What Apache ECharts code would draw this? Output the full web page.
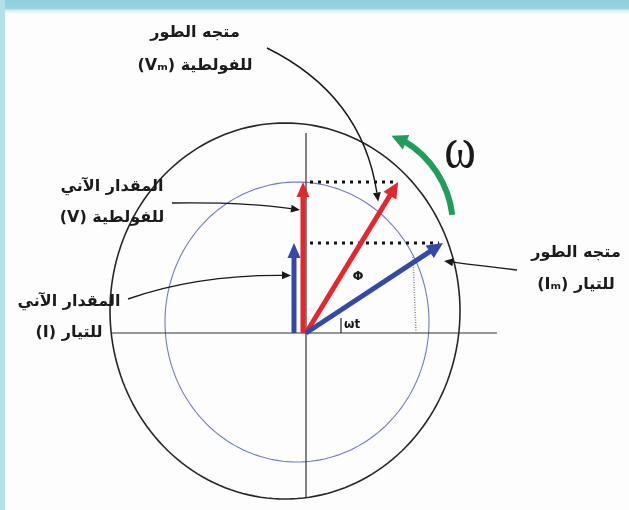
<!DOCTYPE html>
<html><head><meta charset="utf-8">
<script src="https://cdn.jsdelivr.net/npm/echarts@6/dist/echarts.min.js"></script>
<style>html,body{margin:0;padding:0;background:#fdfdfd}#c{width:629px;height:510px}</style>
</head><body><div id="c"></div><script>
// ---------- data (in plot units) ----------
const phasorNames = ['Vm', 'Im'];
const phasorMagnitudes = [177, 164];
const phasorAnglesDeg = [58.6, 33.3];
const instantaneousValues = [151, 90];
const phasorColors = ['#e4262d', '#3349a9'];
const circleRadiiX = [175, 132];
const circleRadiiY = [188, 140];
const labelLine1 = ['متجه الطور', 'المقدار الآني', 'المقدار الآني', 'متجه الطور'];
const labelLine2 = ['(Vₘ) للفولطية', '(V) للفولطية', '(I) للتيار', '(Iₘ) للتيار'];
const omegaText = 'ω';
const phiText = 'Φ';
const angleText = 'ωt';

// ---------- layout (positions in plot units, origin = phasor origin) ----------
const L = {
  circleCenters: [[-21, 22], [-9, 11]],
  circleColors: ['#262626', '#6f7cc4'],
  circleWidths: [1.6, 1.1],
  hAxis: [-194, 191], vAxis: [-164, 200],
  projOffsetX: [-3, -12],
  labels: [[-111, 300, 267], [-194, 146, 115], [-237, 31, 0], [270, 80, 48]],
  omegaArc: {c: [47, 106], r: 100, a0: 7, a1: 66},
  omegaPos: [154, 182], phiPos: [52, 56], anglePos: [38, 8],
  dotArc: [[107, 76], [110, 0]]
};

const chart = echarts.init(document.getElementById('c'));

function arrowEls(p0, p1, color, width, headLen, headW) {
  const dx = p1[0] - p0[0], dy = p1[1] - p0[1];
  const len = Math.hypot(dx, dy), ux = dx / len, uy = dy / len;
  const b = [p1[0] - ux * headLen, p1[1] - uy * headLen];
  const nx = -uy, ny = ux;
  return [
    {type: 'line', shape: {x1: p0[0], y1: p0[1], x2: b[0] + ux, y2: b[1] + uy}, style: {stroke: color, lineWidth: width}},
    {type: 'polygon', shape: {points: [p1, [b[0] + nx * headW, b[1] + ny * headW], [b[0] - nx * headW, b[1] - ny * headW]]}, style: {fill: color}}
  ];
}
function leader(api, s, c, e) {
  const ps = api.coord(s), pc = api.coord(c), pe = api.coord(e);
  const dx = pe[0] - pc[0], dy = pe[1] - pc[1];
  const len = Math.hypot(dx, dy), ux = dx / len, uy = dy / len;
  const hl = 9, hw = 4;
  const b = [pe[0] - ux * hl, pe[1] - uy * hl];
  return [
    {type: 'bezierCurve', shape: {x1: ps[0], y1: ps[1], cpx1: pc[0], cpy1: pc[1], x2: b[0], y2: b[1]}, style: {stroke: '#1a1a1a', lineWidth: 1.4, fill: null}},
    {type: 'polygon', shape: {points: [pe, [b[0] - uy * hw, b[1] + ux * hw], [b[0] + uy * hw, b[1] - ux * hw]]}, style: {fill: '#1a1a1a'}}
  ];
}
function tip(i) {
  const a = phasorAnglesDeg[i] * Math.PI / 180;
  return [phasorMagnitudes[i] * Math.cos(a), phasorMagnitudes[i] * Math.sin(a)];
}
const arFont = 'bold 16px "DejaVu Sans"';

const option = {
  animation: false,
  backgroundColor: '#fdfdfd',
  grid: {left: 0, right: 0, top: 0, bottom: 0},
  xAxis: {type: 'value', min: -306, max: 323, show: false},
  yAxis: {type: 'value', min: -177, max: 333, show: false},
  graphic: [
    {type: 'rect', shape: {x: 0, y: 0, width: 629, height: 14}, style: {fill: new echarts.graphic.LinearGradient(0, 0, 0, 1, [{offset: 0, color: '#8fd0dc'}, {offset: 0.6, color: '#96d4de'}, {offset: 0.75, color: '#d6eff2'}, {offset: 1, color: '#fdfdfd'}])}},
    {type: 'rect', shape: {x: 0, y: 0, width: 5, height: 510}, style: {fill: '#b3e1e7'}}
  ],
  series: [
    { // circles
      type: 'custom', coordinateSystem: 'cartesian2d', silent: true,
      data: circleRadiiX.map((r, i) => [i]),
      renderItem(params, api) {
        const i = params.dataIndex, c = L.circleCenters[i];
        const pts = [];
        for (let k = 0; k <= 180; k++) {
          const t = k / 180 * Math.PI * 2;
          pts.push(api.coord([c[0] + circleRadiiX[i] * Math.cos(t), c[1] + circleRadiiY[i] * Math.sin(t)]));
        }
        return {type: 'polyline', shape: {points: pts}, style: {stroke: L.circleColors[i], lineWidth: L.circleWidths[i], fill: null}};
      }
    },
    { // axes + dotted arc
      type: 'custom', coordinateSystem: 'cartesian2d', silent: true, data: [[0]],
      renderItem(params, api) {
        const h0 = api.coord([L.hAxis[0], 0]), h1 = api.coord([L.hAxis[1], 0]);
        const v0 = api.coord([0, L.vAxis[0]]), v1 = api.coord([0, L.vAxis[1]]);
        const d0 = api.coord(L.dotArc[0]), d1 = api.coord(L.dotArc[1]);
        return {type: 'group', children: [
          {type: 'line', shape: {x1: h0[0], y1: h0[1], x2: h1[0], y2: h1[1]}, style: {stroke: '#333', lineWidth: 1.2}},
          {type: 'line', shape: {x1: v0[0], y1: v0[1], x2: v1[0], y2: v1[1]}, style: {stroke: '#333', lineWidth: 1.2}},
          {type: 'line', shape: {x1: d0[0], y1: d0[1], x2: d1[0], y2: d1[1]}, style: {stroke: '#888', lineWidth: 1.5, lineDash: [1, 1.5]}}
        ]};
      }
    },
    { // projections (dotted) + instantaneous arrows
      type: 'custom', coordinateSystem: 'cartesian2d', silent: true,
      data: instantaneousValues.map((v, i) => [i]),
      renderItem(params, api) {
        const i = params.dataIndex, t = tip(i), v = instantaneousValues[i];
        const a = api.coord([0, t[1]]), b = api.coord([t[0], t[1]]);
        const p0 = api.coord([L.projOffsetX[i], 0]), p1 = api.coord([L.projOffsetX[i], v]);
        return {type: 'group', children: [
          {type: 'line', shape: {x1: a[0] + 4, y1: a[1], x2: b[0] - 4, y2: b[1]}, style: {stroke: '#111', lineWidth: 3, lineDash: [3, 5]}},
          ...arrowEls(p0, p1, phasorColors[i], 5, 15, 6.5)
        ]};
      }
    },
    { // rotating phasors
      type: 'custom', coordinateSystem: 'cartesian2d', silent: true,
      data: phasorMagnitudes.map((m, i) => [i]),
      renderItem(params, api) {
        const i = params.dataIndex;
        return {type: 'group', children: arrowEls(api.coord([0, 0]), api.coord(tip(i)), phasorColors[i], 5, 16, 7.5)};
      }
    },
    { // annotations
      type: 'custom', coordinateSystem: 'cartesian2d', silent: true, data: [[0]],
      renderItem(params, api) {
        const ch = [];
        labelLine1.forEach((t, i) => {
          const l = L.labels[i];
          const p1 = api.coord([l[0], l[1]]), p2 = api.coord([l[0], l[2]]);
          ch.push({type: 'text', style: {text: t, x: p1[0], y: p1[1], font: arFont, fill: '#1b1b1b', align: 'center', verticalAlign: 'middle'}});
          ch.push({type: 'text', style: {text: labelLine2[i], x: p2[0], y: p2[1], font: arFont, fill: '#1b1b1b', align: 'center', verticalAlign: 'middle'}});
        });
        const tv = tip(0), ti = tip(1);
        ch.push(...leader(api, [-39, 285], [56, 238], [tv[0] * 0.87 - 8, tv[1] * 0.87]));
        ch.push(...leader(api, [-134, 130], [-60, 131], [L.projOffsetX[0] - 3, instantaneousValues[0] * 0.815]));
        ch.push(...leader(api, [-178, 34], [-110, 58], [L.projOffsetX[1] - 3, instantaneousValues[1] * 0.64]));
        ch.push(...leader(api, [211, 63], [175, 67], [ti[0] + 1, ti[1] - 18]));
        // omega rotation arrow
        const oa = L.omegaArc, c = api.coord(oa.c), r = api.size([oa.r, 0])[0];
        const a0 = -oa.a1 * Math.PI / 180, a1 = -oa.a0 * Math.PI / 180;
        ch.push({type: 'arc', shape: {cx: c[0], cy: c[1], r: r, startAngle: a0 + 0.12, endAngle: a1, clockwise: true}, style: {stroke: '#1f9e5b', lineWidth: 6, fill: null}});
        const e = [c[0] + r * Math.cos(a0 + 0.14), c[1] + r * Math.sin(a0 + 0.14)];
        const tg = [Math.sin(a0), -Math.cos(a0)];
        const tp = [e[0] + tg[0] * 16, e[1] + tg[1] * 16];
        const nn = [Math.cos(a0), Math.sin(a0)];
        ch.push({type: 'polygon', shape: {points: [tp, [e[0] + nn[0] * 8, e[1] + nn[1] * 8], [e[0] - nn[0] * 8, e[1] - nn[1] * 8]]}, style: {fill: '#1f9e5b'}});
        const po = api.coord(L.omegaPos), pp = api.coord(L.phiPos), pa = api.coord(L.anglePos);
        ch.push({type: 'text', x: po[0], y: po[1], scaleY: 1.25, style: {text: omegaText, x: 0, y: 0, font: '48px "Liberation Serif"', fill: '#1a1a1a', align: 'center', verticalAlign: 'middle'}});
        ch.push({type: 'text', style: {text: phiText, x: pp[0], y: pp[1], font: 'bold 13px "DejaVu Sans"', fill: '#1a1a1a', align: 'center', verticalAlign: 'middle'}});
        ch.push({type: 'text', style: {text: angleText, x: pa[0], y: pa[1], font: 'bold 12px "DejaVu Sans"', fill: '#1a1a1a', align: 'left', verticalAlign: 'middle'}});
        const t0 = api.coord([L.anglePos[0] - 3, 0]), t1 = api.coord([L.anglePos[0] - 3, 15]);
        ch.push({type: 'line', shape: {x1: t0[0], y1: t0[1], x2: t1[0], y2: t1[1]}, style: {stroke: '#222', lineWidth: 1.2}});
        return {type: 'group', children: ch};
      }
    }
  ]
};
chart.setOption(option);
</script></body></html>
